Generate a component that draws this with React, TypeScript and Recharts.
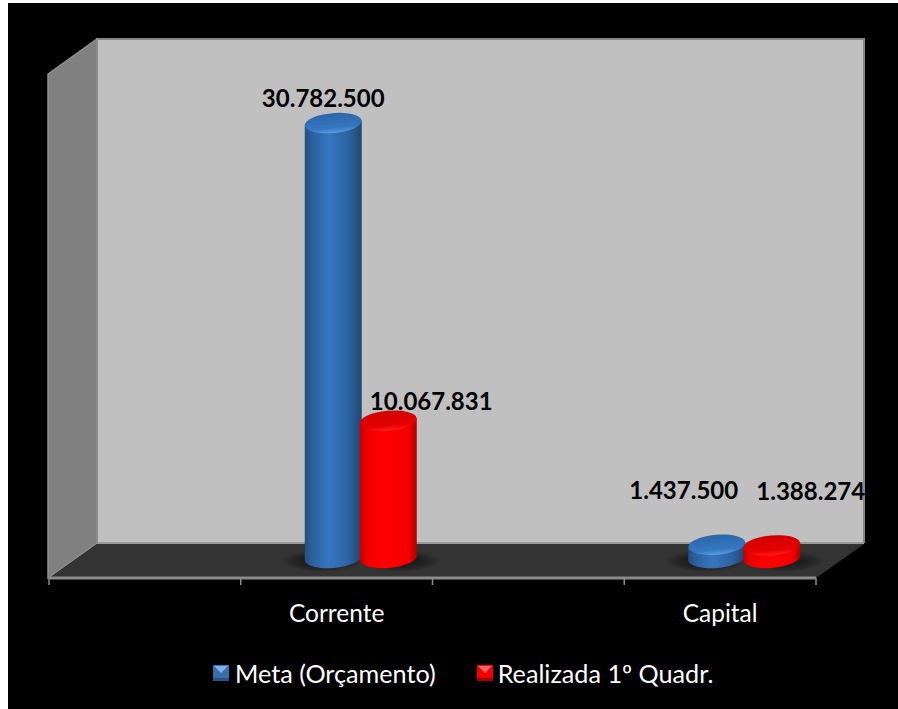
import { Bar, BarChart, LabelList, Legend, XAxis, YAxis } from 'recharts';

const categories = ['', 'Corrente', '', 'Capital'];
const metaValues = [null, 30782500, null, 1437500];
const realizadaValues = [null, 10067831, null, 1388274];

const chartData = categories.map((category, i) => ({
  category,
  meta: metaValues[i],
  realizada: realizadaValues[i],
}));

const CHART_WIDTH = 890;
const CHART_HEIGHT = 706;
const FONT = 'Lato, sans-serif';

// plot area, in chart coordinates (the chart itself sits at page 8,3)
// the x axis height and the legend also take room below the plot
const AXIS_HEIGHT = 60;
const PLOT_BOTTOM = 575;
const MARGIN = { top: 71, right: 82, bottom: 41, left: 41 };
const PLOT_LEFT = MARGIN.left;
const PLOT_RIGHT = CHART_WIDTH - MARGIN.right;
const BAND = (PLOT_RIGHT - PLOT_LEFT) / categories.length;

// the fake 3D box: how far the back wall is pushed from the front plane
const DEPTH_X = 48;
const BACK_TOP = 36;
const BACK_BOTTOM = 540;
// bars stand in the middle of the floor's depth
const BAR_SHIFT = 24;
const FLOOR_LIFT = 7.4;
const ELLIPSE_RY = 10;
const TILT = -5;

// labels were moved by hand in the original, so each one has its own offset
// (LabelList skips the empty categories, so these are 0 and 1)
const metaLabelOffsets: Record<number, { dx: number; dy: number }> = {
  0: { dx: -10, dy: -26 },
  1: { dx: -33, dy: -55 },
};
const realizadaLabelOffsets: Record<number, { dx: number; dy: number }> = {
  0: { dx: 43, dy: -20 },
  1: { dx: 39, dy: -55 },
};

const formatValue = (v: number) =>
  String(v).replace(/\B(?=(\d{3})+(?!\d))/g, '.');

function Box() {
  const backLeft = PLOT_LEFT + DEPTH_X;
  const backRight = PLOT_RIGHT + DEPTH_X;
  return (
    <g>
      <defs>
        <linearGradient id="bodyMeta" x1="0" x2="1" y1="0" y2="0">
          <stop offset="0" stopColor="#234f80" />
          <stop offset="0.12" stopColor="#2a5f9c" />
          <stop offset="0.42" stopColor="#3676c0" />
          <stop offset="0.75" stopColor="#2d64a4" />
          <stop offset="1" stopColor="#1f4870" />
        </linearGradient>
        <linearGradient id="bodyRealizada" x1="0" x2="1" y1="0" y2="0">
          <stop offset="0" stopColor="#c00000" />
          <stop offset="0.14" stopColor="#f00000" />
          <stop offset="0.4" stopColor="#ff0000" />
          <stop offset="0.85" stopColor="#f40000" />
          <stop offset="1" stopColor="#b00000" />
        </linearGradient>
        <linearGradient id="capMeta" x1="0" x2="0" y1="0" y2="1">
          <stop offset="0" stopColor="#2c66a8" />
          <stop offset="0.75" stopColor="#3577c2" />
          <stop offset="1" stopColor="#5a9de0" />
        </linearGradient>
        <linearGradient id="capRealizada" x1="0" x2="0" y1="0" y2="1">
          <stop offset="0" stopColor="#d00000" />
          <stop offset="0.75" stopColor="#e60000" />
          <stop offset="1" stopColor="#ff2020" />
        </linearGradient>
        <radialGradient id="floorShadow">
          <stop offset="0" stopColor="#000" stopOpacity="0.6" />
          <stop offset="0.6" stopColor="#000" stopOpacity="0.35" />
          <stop offset="1" stopColor="#000" stopOpacity="0" />
        </radialGradient>
      </defs>
      <rect
        x={backLeft}
        y={BACK_TOP}
        width={backRight - backLeft}
        height={BACK_BOTTOM - BACK_TOP}
        fill="#c0c0c0"
      />
      <path
        d={`M${backLeft} ${BACK_BOTTOM} V${BACK_TOP} H${backRight} V${BACK_BOTTOM}`}
        fill="none"
        stroke="#868686"
        strokeWidth={2}
      />
      <path d={`M${backLeft} ${BACK_BOTTOM} H${backRight}`} stroke="#9a9a9a" strokeWidth={2} />
      <polygon
        points={`${PLOT_LEFT - 1},${MARGIN.top} ${backLeft},${BACK_TOP} ${backLeft},${BACK_BOTTOM} ${PLOT_LEFT - 1},${PLOT_BOTTOM}`}
        fill="#808080"
        stroke="#8f8f8f"
        strokeWidth={1.5}
      />
      <polygon
        points={`${PLOT_LEFT},${PLOT_BOTTOM} ${PLOT_RIGHT},${PLOT_BOTTOM} ${backRight},${BACK_BOTTOM + 1} ${backLeft},${BACK_BOTTOM + 1}`}
        fill="#333333"
      />
    </g>
  );
}

function Cylinder(props: any) {
  const { x, y, width, height, value, tone } = props;
  if (value == null) return null;
  const left = x + BAR_SHIFT;
  const right = left + width;
  const rx = width / 2;
  const slope = rx * Math.sin((-TILT * Math.PI) / 180);
  const bottom = y + height - FLOOR_LIFT;
  const isMeta = tone === 'meta';
  const shadowCx = left + width * (isMeta ? 0.3 : 0.7);
  return (
    <g>
      <ellipse
        cx={shadowCx}
        cy={bottom + 3}
        rx={width * 0.72}
        ry={ELLIPSE_RY + 1}
        fill="url(#floorShadow)"
      />
      <path
        d={`M${left} ${y + slope} L${left} ${bottom + slope}
            A${rx} ${ELLIPSE_RY} ${TILT} 0 0 ${right} ${bottom - slope}
            L${right} ${y - slope} Z`}
        fill={isMeta ? 'url(#bodyMeta)' : 'url(#bodyRealizada)'}
      />
      <ellipse
        cx={left + rx}
        cy={y}
        rx={rx}
        ry={ELLIPSE_RY}
        transform={`rotate(${TILT} ${left + rx} ${y})`}
        fill={isMeta ? 'url(#capMeta)' : 'url(#capRealizada)'}
      />
    </g>
  );
}

function ValueLabel(props: any) {
  const { x, y, width, value, index, offsets } = props;
  const offset = offsets[index];
  if (value == null || !offset) return null;
  return (
    <text
      x={x + BAR_SHIFT + width / 2 + offset.dx}
      y={y + offset.dy}
      textAnchor="middle"
      dominantBaseline="central"
      fontFamily={FONT}
      fontSize={24}
      fontWeight={700}
      fill="#000"
    >
      {formatValue(value)}
    </text>
  );
}

// tick marks sit on the band edges, the label in the middle of the band
function BandTick(props: any) {
  const { x, payload, index } = props;
  const edges = index === categories.length - 1 ? [-BAND / 2, BAND / 2] : [-BAND / 2];
  return (
    <g>
      {edges.map((e) => (
        <line key={e} x1={x + e} x2={x + e} y1={PLOT_BOTTOM} y2={PLOT_BOTTOM + 7} stroke="#8c8c8c" strokeWidth={1.5} />
      ))}
      <text
        x={x}
        y={PLOT_BOTTOM + 44}
        textAnchor="middle"
        fontFamily={FONT}
        fontSize={24.5}
        fill="#fff"
      >
        {payload.value}
      </text>
    </g>
  );
}

function LegendIcon({ base, light, dark }: { base: string; light: string; dark: string }) {
  return (
    <svg width={16} height={16} style={{ display: 'block' }}>
      <rect width={16} height={16} fill={base} />
      <polygon points="1,1 15,1 8,8" fill={light} />
      <rect y={13} width={16} height={3} fill={dark} />
    </svg>
  );
}

function ChartLegend() {
  return (
    <div style={{ display: 'flex', alignItems: 'center', fontFamily: FONT, fontSize: 25.2, color: '#fff', whiteSpace: 'nowrap' }}>
      <LegendIcon base="#3a6ea8" light="#7fb2ea" dark="#2a5288" />
      <span style={{ marginLeft: 6 }}>Meta (Orçamento)</span>
      <span style={{ width: 41 }} />
      <LegendIcon base="#f00000" light="#ff6060" dark="#a80000" />
      <span style={{ marginLeft: 5 }}>Realizada 1º Quadr.</span>
    </div>
  );
}

export default function App() {
  return (
    <div style={{ position: 'absolute', left: 8, top: 3, width: CHART_WIDTH, height: CHART_HEIGHT, background: '#000' }}>
      <BarChart
        width={CHART_WIDTH}
        height={CHART_HEIGHT}
        data={chartData}
        margin={MARGIN}
        barSize={57}
        barGap={-2}
        style={{ background: '#000' }}
      >
        <Box />
        <XAxis
          dataKey="category"
          interval={0}
          tick={<BandTick />}
          tickLine={false}
          axisLine={{ stroke: '#8c8c8c', strokeWidth: 3 }}
          height={AXIS_HEIGHT}
        />
        <YAxis hide domain={[-879000, 34200000]} allowDataOverflow />
        <Bar
          dataKey="meta"
          name="Meta (Orçamento)"
          fill="#3676c0"
          isAnimationActive={false}
          shape={(p: any) => <Cylinder {...p} value={p.meta} tone="meta" />}
        >
          <LabelList dataKey="meta" content={(p: any) => <ValueLabel {...p} offsets={metaLabelOffsets} />} />
        </Bar>
        <Bar
          dataKey="realizada"
          name="Realizada 1º Quadr."
          fill="#ff0000"
          isAnimationActive={false}
          shape={(p: any) => <Cylinder {...p} value={p.realizada} tone="realizada" />}
        >
          <LabelList dataKey="realizada" content={(p: any) => <ValueLabel {...p} offsets={realizadaLabelOffsets} />} />
        </Bar>
        <Legend
          content={<ChartLegend />}
          wrapperStyle={{ left: 205, top: 655, width: 'auto', bottom: 'auto' }}
        />
      </BarChart>
    </div>
  );
}
